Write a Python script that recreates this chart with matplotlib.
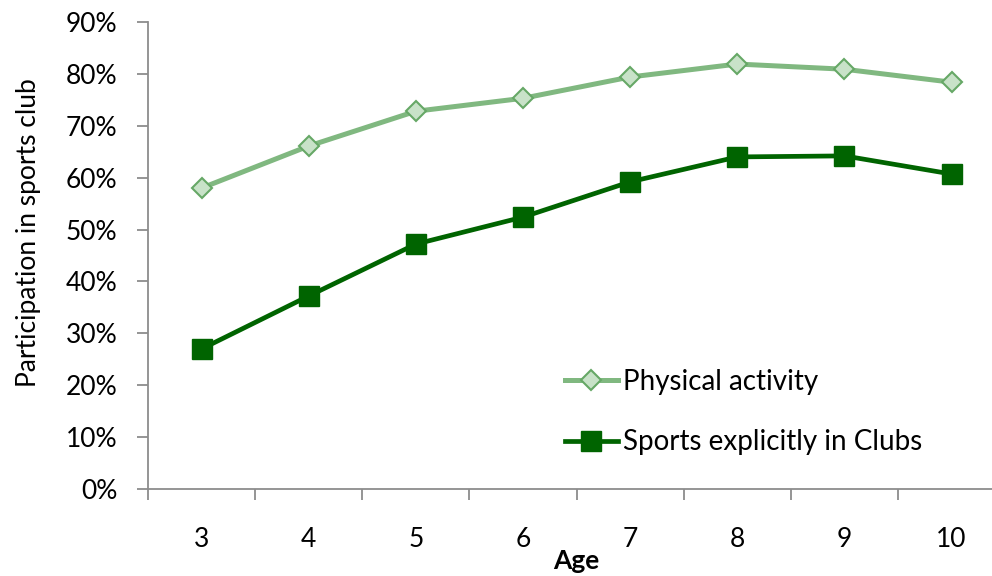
import matplotlib.pyplot as plt
import matplotlib.ticker as ticker
import numpy as np

plt.rcParams['font.family'] = ['Lato', 'DejaVu Sans']

ages = ['3', '4', '5', '6', '7', '8', '9', '10']
physical_activity = [58.0, 66.1, 72.8, 75.3, 79.4, 81.9, 80.9, 78.4]
sports_in_clubs = [27.0, 37.2, 47.2, 52.4, 59.2, 64.0, 64.2, 60.7]

x = np.arange(len(ages))
fs = 19

fig = plt.figure(figsize=(9.92, 5.76), dpi=100)
# plot area runs a little past the right edge of the figure
ax = fig.add_axes([0.1492, 0.151, 0.864, 0.8108])

ax.plot(x, physical_activity, color='#80b880', linewidth=3.6, marker='D', markersize=10,
        markerfacecolor='#c8e2c8', markeredgecolor='#66a866', markeredgewidth=1.5,
        label='Physical activity')
ax.plot(x, sports_in_clubs, color='#006400', linewidth=3.4, marker='s', markersize=14,
        markerfacecolor='#006400', markeredgecolor='#006400',
        label='Sports explicitly in Clubs')

ax.set_xlim(-0.5, len(ages) - 0.5)
ax.set_ylim(0, 90)
ax.yaxis.set_major_locator(ticker.MultipleLocator(10))
ax.yaxis.set_major_formatter(ticker.FormatStrFormatter('%d%%'))

ax.set_xticks(x)
ax.set_xticklabels(ages)
ax.set_xticks(np.arange(-0.5, len(ages)), minor=True)
ax.tick_params(axis='x', which='major', length=0, pad=27, labelsize=fs)
ax.tick_params(axis='x', which='minor', length=8, width=1.3, color='#8c8c8c', direction='out')
ax.tick_params(axis='y', length=8, width=1.3, color='#8c8c8c', direction='out', pad=14, labelsize=fs)

for side in ['top', 'right']:
    ax.spines[side].set_visible(False)
for side in ['left', 'bottom']:
    ax.spines[side].set_color('#8c8c8c')
    ax.spines[side].set_linewidth(1.3)

ax.set_ylabel('Participation in sports club', fontsize=fs)
ax.yaxis.set_label_coords(-0.125, 0.55)
ax.set_xlabel('Age', fontsize=fs, fontweight='bold')
ax.xaxis.set_label_coords(0.5, -0.128)

ax.legend(loc='center left', bbox_to_anchor=(0.47, 0.165), frameon=False, fontsize=20,
          borderpad=0, handlelength=1.9, handletextpad=0.2, labelspacing=1.25)

fig.savefig('out.png', dpi=100)
